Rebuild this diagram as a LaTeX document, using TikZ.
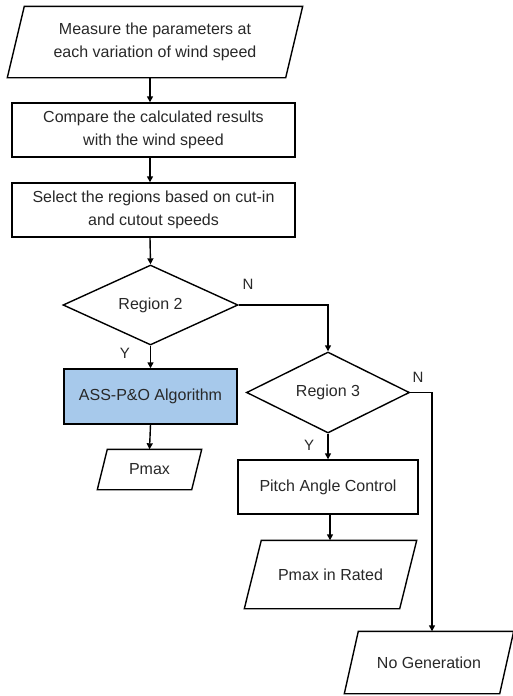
\documentclass[tikz,border=0pt]{standalone}
\usepackage{fontspec}
\setmainfont{Liberation Sans}
\usetikzlibrary{shapes.geometric,arrows.meta,calc}
\definecolor{txt}{RGB}{40,40,40}
\definecolor{algblue}{RGB}{167,201,235}
\tikzset{
  base/.style={draw=black, line width=1.4pt, text=txt, align=center, inner sep=0pt,
    font=\fontsize{16}{23}\selectfont},
  procbox/.style={base, rectangle},
  iobox/.style={base, rectangle, draw=none},
  outline/.style={draw=black, line width=1.4pt, line join=miter},
  decbox/.style={base, diamond, aspect=2.1},
  conn/.style={line width=1.4pt, -{Triangle[length=6pt,width=6pt]}},
  lbl/.style={text=txt, font=\fontsize{15}{17}\selectfont, inner sep=0pt}
}
\newcommand\parashape[2]{%
  \draw[outline] ($(#1.south west)+(-#2,0)$) -- ($(#1.north west)+(#2,0)$)
    -- ($(#1.north east)+(#2,0)$) -- ($(#1.south east)+(-#2,0)$) -- cycle;}
\begin{document}
\begin{tikzpicture}[x=1pt,y=-1pt]
\useasboundingbox (0,0) rectangle (513,696);
\node[iobox, minimum width=277, minimum height=70] (p1) at (155,42)
  {Measure the parameters at\\each variation of wind speed};
\node[procbox, minimum width=283, minimum height=54] (b2) at (153.5,130)
  {Compare the calculated results\\with the wind speed};
\node[procbox, minimum width=283, minimum height=54] (b3) at (153.5,210)
  {Select the regions based on cut-in\\and cutout speeds};
\node[decbox, minimum width=175, minimum height=80] (d2) at (150.5,305) {Region 2};
\node[procbox, fill=algblue, minimum width=173, minimum height=55] (ass) at (150.5,396.5)
  {ASS-P\&O Algorithm};
\node[iobox, minimum width=93, minimum height=39] (pmax) at (149.5,469.5) {Pmax};
\node[decbox, minimum width=163, minimum height=81] (d3) at (328,392.5) {Region 3};
\node[procbox, minimum width=180, minimum height=54] (pitch) at (328,487)
  {Pitch Angle Control};
\node[iobox, minimum width=154, minimum height=67] (pr) at (330.5,574.5) {Pmax in Rated};
\node[iobox, minimum width=154, minimum height=61] (ng) at (429,662.5) {No Generation};

\parashape{p1}{8.5}
\parashape{pmax}{5}
\parashape{pr}{8.5}
\parashape{ng}{7}

\draw[conn] ($(p1.south)+(-5,0)$) -- ($(b2.north)+(-3.5,0)$);
\draw[conn] ($(b2.south)+(-3.5,0)$) -- ($(b3.north)+(-3.5,0)$);
\draw[conn] ($(b3.south)+(-3.5,0)$) -- (d2.north);
\draw[conn] (d2.south) -- (ass.north);
\draw[conn] (ass.south) -- (pmax.north);
\draw[conn] (d2.east) -| (d3.north);
\draw[conn] (d3.south) -- (pitch.north);
\draw[conn] ($(pitch.south)+(2,0)$) -- ($(pr.north)+(-0.5,0)$);
\coordinate (ngtop) at ($(ng.north)+(3,0)$);
\draw[conn] (d3.east) -| (ngtop);

\node[lbl] (n1) at (248,284) {N};
\node[lbl] (y1) at (125,353) {Y};
\node[lbl] (n2) at (418,377) {N};
\node[lbl] (y2) at (309,445) {Y};
\end{tikzpicture}
\end{document}
